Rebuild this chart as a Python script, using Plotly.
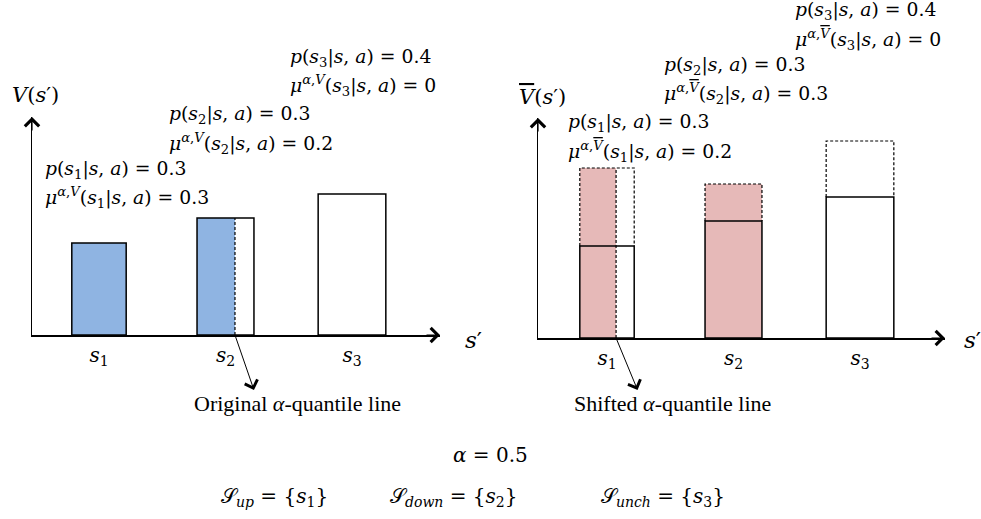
import plotly.graph_objects as go

# ---------------- data ----------------
states = ["1", "2", "3"]                 # s_1, s_2, s_3
p_next = [0.3, 0.3, 0.4]                 # p(s_i | s, a)
mu_V = [0.3, 0.2, 0.0]                   # mu^{alpha,V}(s_i | s, a)
mu_Vbar = [0.2, 0.3, 0.0]                # mu^{alpha,Vbar}(s_i | s, a)
V = [0.92, 1.17, 1.41]                   # V(s')
V_bar = [1.70, 1.54, 1.97]               # shifted V-bar(s')
alpha = 0.5
S_up, S_down, S_unch = ["1"], ["2"], ["3"]

# ---------------- style ----------------
W, H = 981, 519
BAR_W = [0.43, 0.45, 0.535]
BLUE = "#8FB4E2"
PINK = "#E6B9B8"
MATH = "DejaVu Serif"
TEXT = "Liberation Serif"
DASH = "3px,2px"
MSIZE = 18.8


def PX(x):
    return x / W


def PY(y):
    return 1 - y / H


fig = go.Figure()


def rect(x0, x1, y0, y1):
    return [x0, x1, x1, x0, x0], [y0, y0, y1, y1, y0]


def add_panel(xa, ya, heights, shifted, mus, fill):
    xs = [i + 1 for i in range(len(states))]
    for i, xc in enumerate(xs):
        w = BAR_W[i]
        x0, x1 = xc - w / 2, xc + w / 2
        top = heights[i] if shifted is None else shifted[i]
        xq = x0 + w * mus[i] / p_next[i]
        if mus[i] > 0:
            rx, ry = rect(x0, xq, 0, top)
            fig.add_trace(go.Scatter(x=rx, y=ry, mode="lines", fill="toself",
                                     fillcolor=fill, line=dict(width=0),
                                     xaxis=xa, yaxis=ya, hoverinfo="skip"))
        rx, ry = rect(x0, x1, 0, heights[i])
        fig.add_trace(go.Scatter(x=rx, y=ry, mode="lines",
                                 line=dict(color="black", width=1.5),
                                 xaxis=xa, yaxis=ya, hoverinfo="skip"))
        if shifted is not None:
            fig.add_trace(go.Scatter(x=[x0, x0, x1, x1],
                                     y=[heights[i], shifted[i], shifted[i], heights[i]],
                                     mode="lines",
                                     line=dict(color="black", width=1.2, dash=DASH),
                                     xaxis=xa, yaxis=ya, hoverinfo="skip"))
        if 0 < mus[i] < p_next[i]:
            fig.add_trace(go.Scatter(x=[xq, xq], y=[0, top], mode="lines",
                                     line=dict(color="black", width=1.2, dash=DASH),
                                     xaxis=xa, yaxis=ya, hoverinfo="skip"))
    return xs


xs = add_panel("x", "y", V, None, mu_V, BLUE)
add_panel("x2", "y2", V, V_bar, mu_Vbar, PINK)

ticktext = ["<i>s</i><sub>%s</sub>" % s for s in states]
axis_common = dict(showgrid=False, zeroline=False, showline=True,
                   linecolor="black", linewidth=1.5, fixedrange=True)
fig.update_layout(
    width=W, height=H, margin=dict(l=0, r=0, t=0, b=0),
    paper_bgcolor="white", plot_bgcolor="white", showlegend=False,
    xaxis=dict(domain=[PX(32), PX(440)], range=[0.4704, 3.6957],
               tickvals=xs, ticktext=ticktext, ticks="",
               tickfont=dict(family=MATH, size=20, color="black"),
               ticklabelstandoff=1, **axis_common),
    yaxis=dict(domain=[PY(335), PY(117)], range=[0, 2.18],
               showticklabels=False, ticks="", **axis_common),
    xaxis2=dict(domain=[PX(538), PX(945)], range=[0.4545, 3.672],
                tickvals=xs, ticktext=ticktext, ticks="",
                tickfont=dict(family=MATH, size=20, color="black"),
                ticklabelstandoff=1, anchor="y2", **axis_common),
    yaxis2=dict(domain=[PY(338), PY(118)], range=[0, 2.20],
                showticklabels=False, ticks="", anchor="x2", **axis_common),
)

ann = []


def txt(x, y, s, size=MSIZE, family=MATH, xanchor="left"):
    ann.append(dict(x=PX(x), y=PY(y), xref="paper", yref="paper", text=s,
                    showarrow=False, xanchor=xanchor, yanchor="middle",
                    font=dict(family=family, size=size, color="black")))


def arrow_head(x, y, ax, ay):
    ann.append(dict(x=PX(x), y=PY(y), xref="paper", yref="paper", ax=ax, ay=ay,
                    text="", showarrow=True, arrowhead=4, arrowwidth=1.2,
                    arrowsize=2.3, arrowcolor="black", standoff=0))


# axis arrow heads
arrow_head(440, 335, -15, 0)
arrow_head(32, 117, 0, 15)
arrow_head(945, 338, -15, 0)
arrow_head(538, 118, 0, 15)

VBAR = '<span style="text-decoration:overline"><i>V</i></span>'
txt(10, 95, "<i>V</i>(<i>s</i>′)", size=21)
txt(517, 97, VBAR + "(<i>s</i>′)", size=21)
txt(463, 340, "<i>s</i>′", size=23)
txt(962, 340, "<i>s</i>′", size=23)


def p_text(i, val):
    return "<i>p</i>(<i>s</i><sub>%s</sub>|<i>s</i>, <i>a</i>) = %g" % (states[i], val)


def mu_text(i, val, vsym):
    return ("<i>μ</i><sup><i>α</i>,%s</sup>(<i>s</i><sub>%s</sub>|<i>s</i>, <i>a</i>) = %g"
            % (vsym, states[i], val))


left_pos = [(43, 170), (167, 115), (288, 58)]
right_pos = [(566, 123), (662, 66), (793, 11)]
for i in range(3):
    x, y = left_pos[i]
    txt(x, y, p_text(i, p_next[i]))
    txt(x, y + 28, mu_text(i, mu_V[i], "<i>V</i>"))
    x, y = right_pos[i]
    txt(x, y, p_text(i, p_next[i]))
    txt(x, y + 28, mu_text(i, mu_Vbar[i], VBAR))


# quantile-line arrows (tail at the bottom of the dashed quantile line)
def q_arrow(xa, ya, i, mus, dx, dy):
    w = BAR_W[i]
    xq = (i + 1) - w / 2 + w * mus[i] / p_next[i]
    ann.append(dict(x=xq + dx, y=dy, xref=xa, yref=ya,
                    ax=xq, ay=0, axref=xa, ayref=ya, text="", showarrow=True,
                    arrowhead=4, arrowwidth=1, arrowsize=2.6, arrowcolor="black",
                    standoff=0))


q_arrow("x", "y", 1, mu_V, 0.15, -0.55)
q_arrow("x2", "y2", 0, mu_Vbar, 0.17, -0.52)

txt(297, 403, "Original <i>α</i>-quantile line", size=22, family=TEXT, xanchor="center")
txt(672, 403, "Shifted <i>α</i>-quantile line", size=22, family=TEXT, xanchor="center")
txt(490, 455, "<i>α</i> = %g" % alpha, size=20, xanchor="center")


def set_text(name, members):
    return "𝒮<sub>%s</sub> = {%s}" % (
        name, ", ".join("<i>s</i><sub>%s</sub>" % m for m in members))


txt(274, 497, set_text("<i>up</i>", S_up), size=20, xanchor="center")
txt(454, 497, set_text("<i>down</i>", S_down), size=20, xanchor="center")
txt(663, 497, set_text("<i>unch</i>", S_unch), size=20, xanchor="center")

fig.update_layout(annotations=ann)
fig.write_html("out.html",
               config={"displayModeBar": False, "staticPlot": True},
               post_script="document.body.style.margin='0';"
                           "document.body.style.overflow='hidden';")
